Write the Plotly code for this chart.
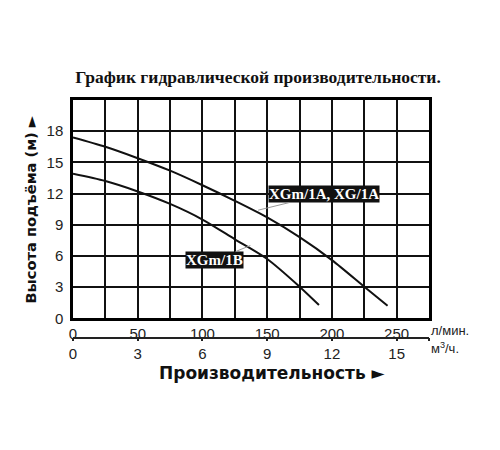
import plotly.graph_objects as go

# расход, л/мин  и  напор, м
flow_a = [0, 25, 50, 75, 100, 125, 150, 175, 200, 225, 243]
head_a = [17.4, 16.5, 15.4, 14.2, 12.8, 11.3, 9.7, 7.8, 5.6, 3.04, 1.2]

flow_b = [0, 25, 50, 75, 100, 125, 150, 175, 190]
head_b = [13.9, 13.2, 12.2, 11.0, 9.5, 7.6, 5.7, 3.04, 1.28]

lpm_ticks = [0, 50, 100, 150, 200, 250]
m3h_ticks = [0, 3, 6, 9, 12, 15]
head_ticks = [0, 3, 6, 9, 12, 15, 18]

label_a = "XGm/1A, XG/1A"
label_b = "XGm/1B"

serif = "Liberation Serif"
sans = "Liberation Sans"
heavy = "DejaVu Sans"

fig = go.Figure()
fig.add_trace(go.Scatter(x=flow_a, y=head_a, mode="lines",
                         line=dict(color="#111", width=2, shape="spline", smoothing=0.8)))
fig.add_trace(go.Scatter(x=flow_b, y=head_b, mode="lines",
                         line=dict(color="#111", width=2, shape="spline", smoothing=0.8)))
# пустой след для второй оси (м3/ч)
fig.add_trace(go.Scatter(x=[0, 16.5], y=[None, None], xaxis="x2", mode="lines",
                         hoverinfo="skip"))

fig.update_layout(
    width=500, height=450,
    margin=dict(l=65, r=79, t=92, b=88),
    plot_bgcolor="white", paper_bgcolor="white",
    showlegend=False,
    title=dict(text="<b>График гидравлической производительности.</b>",
               x=0.5, xanchor="center", y=1 - 69 / 450, yanchor="middle",
               font=dict(family=serif, size=17.5, color="#111")),
    xaxis=dict(range=[0, 275], tickvals=lpm_ticks,
               showgrid=True, gridcolor="#111", gridwidth=2,
               minor=dict(dtick=25, tick0=0, showgrid=True, gridcolor="#111", gridwidth=2),
               showline=True, linecolor="#000", linewidth=2.5, mirror=True,
               ticks="", zeroline=False,
               tickfont=dict(family=sans, size=15, color="#222"),
               anchor="y"),
    yaxis=dict(range=[0, 21], tickvals=head_ticks, domain=[0.1915, 1],
               showgrid=True, gridcolor="#111", gridwidth=2,
               showline=True, linecolor="#000", linewidth=2.5, mirror=True,
               ticks="", zeroline=False, ticklabelstandoff=4,
               tickfont=dict(family=sans, size=15, color="#222")),
    xaxis2=dict(range=[0, 16.5], overlaying="x", anchor="free", position=0.1196,
                side="bottom", tickvals=m3h_ticks,
                minor=dict(tickmode="array", tickvals=[16.5], ticks="outside",
                           ticklen=3, tickwidth=1.5, tickcolor="#222", showgrid=False),
                showgrid=False, zeroline=False,
                showline=True, linecolor="#222", linewidth=1.5,
                ticks="outside", ticklen=3, tickwidth=1.5, tickcolor="#222",
                tickfont=dict(family=sans, size=15, color="#222")),
)

fig.add_annotation(x=143, y=10.4, ax=193.7, ay=11.94, xref="x", yref="y",
                   axref="x", ayref="y", text="<b>" + label_a + "</b>",
                   showarrow=True, arrowhead=0, arrowwidth=1, arrowcolor="#999",
                   bgcolor="#111", borderpad=0,
                   font=dict(family=serif, size=15, color="white"))
fig.add_annotation(x=137, y=7.0, ax=109.5, ay=5.6, xref="x", yref="y",
                   axref="x", ayref="y", text="<b>" + label_b + "</b>",
                   showarrow=True, arrowhead=0, arrowwidth=1, arrowcolor="#999",
                   bgcolor="#111", borderpad=0,
                   font=dict(family=serif, size=15, color="white"))

fig.add_annotation(x=1.0, y=0.148, xref="paper", yref="paper", text="л/мин.",
                   showarrow=False, xanchor="left", yanchor="middle",
                   font=dict(family=sans, size=13, color="#222"))
fig.add_annotation(x=1.0, y=0.081, xref="paper", yref="paper", text="м<sup>3</sup>/ч.",
                   showarrow=False, xanchor="left", yanchor="middle",
                   font=dict(family=sans, size=13, color="#222"))

fig.add_annotation(x=-0.1196, y=0.596, xref="paper", yref="paper",
                   text="<b>Высота подъёма (м) ►</b>", textangle=-90,
                   showarrow=False, xanchor="center", yanchor="middle",
                   font=dict(family=heavy, size=14.6, color="#111"))
fig.add_annotation(x=0.56, y=-0.012, xref="paper", yref="paper",
                   text="<b>Производительность ►</b>",
                   showarrow=False, xanchor="center", yanchor="middle",
                   font=dict(family=heavy, size=17, color="#111"))

fig.write_html("out.html")
